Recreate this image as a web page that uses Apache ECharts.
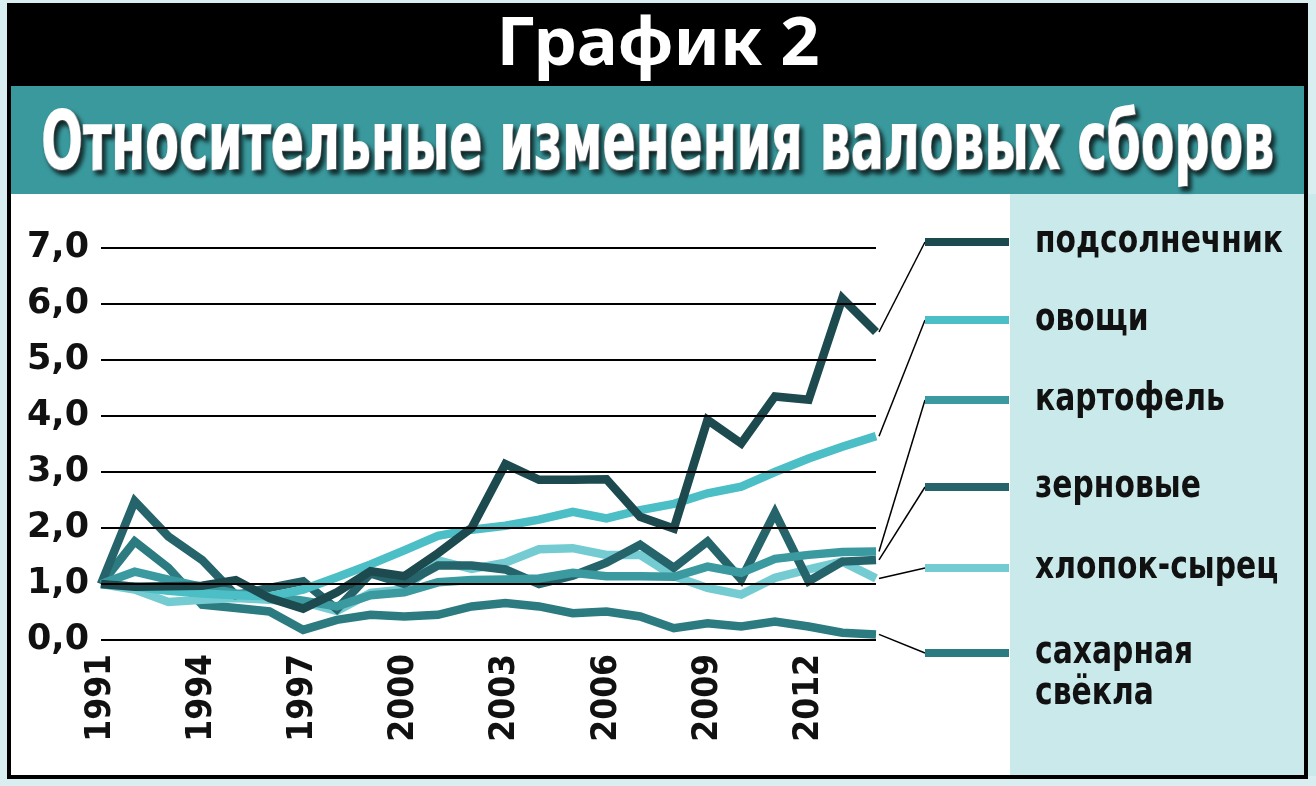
<!DOCTYPE html>
<html>
<head>
<meta charset="utf-8">
<title>График 2</title>
<script src="https://cdn.jsdelivr.net/npm/echarts@6/dist/echarts.min.js"></script>
<style>
  html, body { margin: 0; padding: 0; background: #d8eef0; }
  #main { width: 1316px; height: 786px; }
</style>
</head>
<body>
<div id="main"></div>
<script>
// годы и подписи осей
var years = ['1991', '1992', '1993', '1994', '1995', '1996', '1997', '1998', '1999', '2000', '2001', '2002',
             '2003', '2004', '2005', '2006', '2007', '2008', '2009', '2010', '2011', '2012', '2013', '2014'];
var yLabels = ['0,0', '1,0', '2,0', '3,0', '4,0', '5,0', '6,0', '7,0'];

// относительные изменения (1991 = 1,0)
var sunflower  = [1.0, 0.95, 0.96, 0.97, 1.07, 0.75, 0.56, 0.85, 1.23, 1.14, 1.55, 2.0, 3.14, 2.86, 2.86, 2.87, 2.2, 1.99, 3.93, 3.51, 4.35, 4.29, 6.1, 5.5];
var vegetables = [1.0, 0.95, 0.88, 0.83, 0.8, 0.78, 0.9, 1.12, 1.35, 1.6, 1.86, 1.97, 2.04, 2.15, 2.29, 2.17, 2.32, 2.43, 2.62, 2.74, 3.0, 3.24, 3.45, 3.64];
var potato     = [1.0, 1.22, 1.08, 0.95, 0.83, 0.78, 0.7, 0.6, 0.8, 0.85, 1.03, 1.07, 1.08, 1.1, 1.2, 1.14, 1.14, 1.13, 1.31, 1.2, 1.45, 1.52, 1.57, 1.58];
var grain      = [1.0, 2.48, 1.85, 1.43, 0.8, 0.93, 1.05, 0.55, 1.19, 1.0, 1.33, 1.33, 1.26, 1.0, 1.15, 1.38, 1.7, 1.29, 1.76, 1.08, 2.27, 1.05, 1.4, 1.43];
var cotton     = [1.0, 0.9, 0.68, 0.72, 0.75, 0.72, 0.68, 0.52, 0.84, 0.9, 1.42, 1.27, 1.38, 1.62, 1.64, 1.52, 1.52, 1.14, 0.93, 0.81, 1.11, 1.26, 1.4, 1.1];
var beet       = [1.0, 1.76, 1.29, 0.63, 0.57, 0.51, 0.18, 0.36, 0.45, 0.42, 0.45, 0.6, 0.66, 0.6, 0.48, 0.51, 0.42, 0.21, 0.3, 0.24, 0.33, 0.24, 0.13, 0.1];

var names  = ['подсолнечник', 'овощи', 'картофель', 'зерновые', 'хлопок-сырец', 'сахарная\nсвёкла'];
var values = [sunflower, vegetables, potato, grain, cotton, beet];
var colors = ['#1c4a4f', '#4cbec5', '#3a9aa0', '#25646a', '#74ccd2', '#2c7b81'];

// положение подписей легенды (по вертикали)
var legendY = [242, 320, 400, 487, 568, 653];

function textWidth(txt, font) {
	var ctx = document.createElement('canvas').getContext('2d');
	ctx.font = font;
	return ctx.measureText(txt).width;
}

var myChart = echarts.init(document.getElementById('main'));

// линии: сначала нижние, подсолнечник сверху
var series = [];
for (var i = names.length - 1; i >= 0; i--) {
	series.push({
		name: names[i],
		type: 'line',
		data: values[i],
		symbol: 'none',
		z: 2 + (names.length - i) * 0.1,
		lineStyle: { color: colors[i], width: 8.5, join: 'miter' }
	});
}

var option = {
	animation: false,
	backgroundColor: 'transparent',
	grid: { left: 101, top: 248, width: 775, height: 392 },
	xAxis: {
		type: 'category',
		data: years,
		boundaryGap: false,
		axisLine: { show: false },
		axisTick: { show: false },
		axisLabel: {
			interval: 2,
			rotate: 90,
			margin: 14,
			color: '#111',
			fontFamily: 'DejaVu Sans Condensed',
			fontWeight: 'bold',
			fontSize: 35
		}
	},
	yAxis: {
		type: 'value',
		min: 0,
		max: 7,
		interval: 1,
		z: 4,
		axisLine: { show: false },
		axisTick: { show: false },
		splitLine: { lineStyle: { color: '#000', width: 2 } },
		axisLabel: {
			margin: 12,
			color: '#111',
			fontFamily: 'DejaVu Sans',
			fontWeight: 'bold',
			fontSize: 35,
			formatter: function (v) { return yLabels[v]; }
		}
	},
	series: series
};
myChart.setOption(option);

// оформление: рамка, заголовки, легенда
var titleFont = 'bold 64px "Noto Sans"';
var subFont = 'bold 60px "DejaVu Sans Condensed"';
var legFont = 'bold 34px "DejaVu Sans"';
var titleScale = 323 / textWidth('График 2', titleFont);
var subScale = 1233 / textWidth('Относительные изменения валовых сборов', subFont);
var legScale = 248 / textWidth('подсолнечник', legFont);

var graphic = [
	{ type: 'rect', z: -10, shape: { x: 9, y: 5, width: 1297, height: 772 }, style: { fill: '#fff' } },
	{ type: 'rect', z: -9, shape: { x: 9, y: 5, width: 1297, height: 81 }, style: { fill: '#000' } },
	{ type: 'rect', z: -9, shape: { x: 11, y: 86, width: 1293, height: 108 }, style: { fill: '#3a999d' } },
	{ type: 'rect', z: -9, shape: { x: 1010, y: 194, width: 1294, height: 582 }, style: { fill: '#c9e9eb' } },
	{ type: 'rect', z: 20, shape: { x: 9, y: 5, width: 1297, height: 772 }, style: { fill: null, stroke: '#000', lineWidth: 4 } },
	{
		type: 'text', z: 21, x: 658, y: 46, scaleX: titleScale, scaleY: 1.05,
		style: { text: 'График 2', font: titleFont, fill: '#fff', align: 'center', verticalAlign: 'middle' }
	},
	{
		type: 'text', z: 21, x: 658, y: 148, scaleX: subScale, scaleY: 1.35,
		style: {
			text: 'Относительные изменения валовых сборов', font: subFont, fill: '#fff',
			stroke: '#fff', lineWidth: 1.5,
			align: 'center', verticalAlign: 'middle',
			textShadowColor: 'rgba(0,0,0,0.75)', textShadowBlur: 4, textShadowOffsetX: 3, textShadowOffsetY: 4
		}
	}
];

for (var k = 0; k < names.length; k++) {
	var last = values[k].length - 1;
	var end = myChart.convertToPixel({ xAxisIndex: 0, yAxisIndex: 0 }, [years[last], values[k][last]]);
	graphic.push({
		type: 'polyline', z: 10,
		shape: { points: [[end[0] + 3, end[1]], [925, legendY[k]]] },
		style: { stroke: '#000', lineWidth: 1.5, fill: null }
	});
	graphic.push({
		type: 'rect', z: 10,
		shape: { x: 925, y: legendY[k] - 4, width: 84, height: 8 },
		style: { fill: colors[k] }
	});
	graphic.push({
		type: 'text', z: 10, x: 1035, y: legendY[k] - 21, scaleX: legScale, scaleY: 1.15,
		style: { text: names[k], font: legFont, fill: '#111', align: 'left', verticalAlign: 'top', lineHeight: 36 }
	});
}

myChart.setOption({ graphic: graphic });
</script>
</body>
</html>
